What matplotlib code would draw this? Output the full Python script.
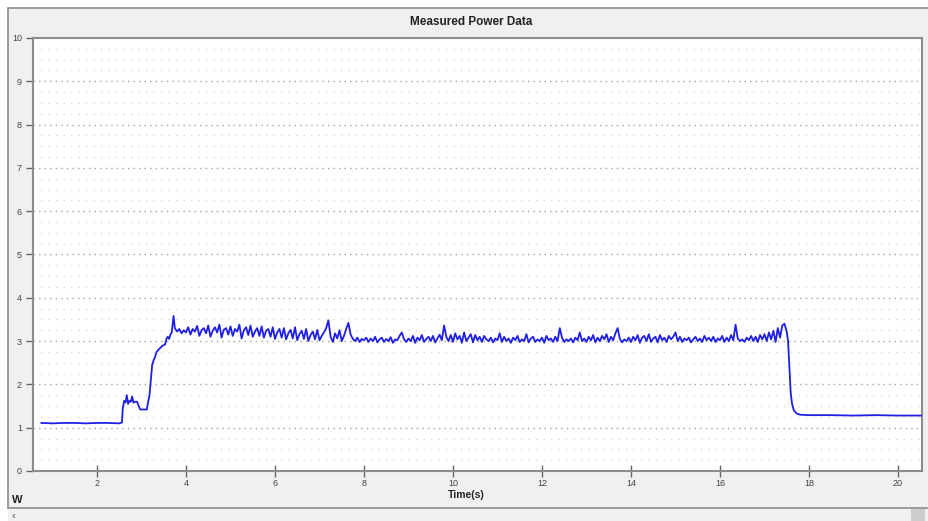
import numpy as np
import matplotlib
matplotlib.use("Agg")
import matplotlib.pyplot as plt
from matplotlib.patches import Rectangle

plt.rcParams['font.family'] = ['Liberation Sans', 'DejaVu Sans']

# ---------------- data ----------------
t_idle_start = [0.75, 1.0, 1.25, 1.5, 1.75, 2.0, 2.25, 2.5, 2.56]
p_idle_start = [1.11, 1.10, 1.11, 1.11, 1.10, 1.11, 1.11, 1.10, 1.12]

t_ramp = [2.58, 2.61, 2.64, 2.67, 2.70, 2.73, 2.76, 2.79, 2.82, 2.85, 2.90, 2.94,
          2.97, 3.05, 3.12, 3.15, 3.18, 3.21, 3.24, 3.27, 3.30, 3.34, 3.38, 3.43,
          3.48, 3.53, 3.56, 3.59, 3.62, 3.65, 3.68, 3.72]
p_ramp = [1.45, 1.62, 1.58, 1.75, 1.55, 1.62, 1.60, 1.72, 1.58, 1.60, 1.60, 1.50,
          1.42, 1.42, 1.42, 1.60, 1.75, 2.10, 2.45, 2.55, 2.62, 2.75, 2.80, 2.85,
          2.90, 2.92, 3.05, 3.10, 3.05, 3.15, 3.20, 3.58]

load_start = 3.75
load_step = 0.05
p_load = [
    3.30, 3.22, 3.28, 3.18, 3.25,
    3.20, 3.32, 3.15, 3.28, 3.22, 3.35, 3.12, 3.25, 3.30, 3.18, 3.36, 3.10, 3.24, 3.32, 3.20, 3.38, 3.08, 3.26, 3.30, 3.15,
    3.34, 3.12, 3.28, 3.22, 3.38, 3.06, 3.25, 3.32, 3.14, 3.36, 3.10, 3.22, 3.30, 3.12, 3.34, 3.08, 3.24, 3.28, 3.10, 3.32,
    3.05, 3.20, 3.28, 3.08, 3.30, 3.04, 3.18, 3.26, 3.06, 3.32, 3.02, 3.16, 3.24, 3.05, 3.28, 3.00, 3.14, 3.22, 3.04, 3.26,
    3.02, 3.12, 3.20, 3.30, 3.48, 3.10, 2.98, 3.18, 3.06, 3.25, 3.00, 3.12, 3.28, 3.42, 3.15, 3.05, 3.00, 3.08, 2.98, 3.05,
    3.02, 3.08, 2.98, 3.06, 3.00, 3.10, 2.97, 3.04, 3.08, 2.98, 3.05, 3.00, 3.09, 2.96, 3.04, 3.02, 3.12, 3.20, 3.04, 2.98,
    3.06, 3.00, 3.12, 2.96, 3.08, 3.02, 3.14, 2.98, 3.05, 3.10, 3.00, 3.12, 2.97, 3.06, 3.15, 3.02, 3.36, 3.10, 3.00, 3.14,
    2.98, 3.18, 3.04, 3.12, 2.96, 3.20, 3.00, 3.08, 3.16, 2.97, 3.14, 3.02, 3.10, 2.98, 3.12, 3.04, 3.00, 3.08, 2.97, 3.06,
    3.02, 3.18, 2.98, 3.10, 3.00, 3.06, 2.96, 3.08, 3.02, 3.12, 2.98, 3.04, 3.00, 3.16, 2.97, 3.06, 3.10, 2.98, 3.04, 3.00,
    3.08, 2.96, 3.12, 3.02, 3.06, 2.98, 3.10, 3.00, 3.30, 3.08, 2.98, 3.04, 3.00, 3.06, 2.97, 3.08, 3.02, 3.20, 3.00, 3.06,
    2.98, 3.10, 3.02, 3.14, 2.97, 3.08, 3.00, 3.12, 3.04, 3.16, 2.98, 3.10, 3.02, 3.18, 3.30, 3.05, 2.97, 3.04, 3.00, 3.08,
    2.98, 3.10, 3.02, 3.14, 2.96, 3.08, 3.12, 3.00, 3.16, 2.98, 3.06, 3.10, 2.97, 3.14, 3.02, 3.08, 2.98, 3.12, 3.04, 3.10,
    3.20, 3.00, 3.10, 2.98, 3.06, 3.02, 3.08, 2.97, 3.04, 3.10, 3.00, 3.06, 2.98, 3.12, 3.02, 3.08, 3.00, 3.10, 2.98, 3.06,
    3.02, 3.12, 2.98, 3.08, 3.00, 3.14, 3.02, 3.38, 3.06, 3.00, 3.04, 2.98, 3.08, 3.02, 3.12, 3.00, 3.10, 2.98, 3.14, 3.04,
    3.16, 3.00, 3.20, 3.04, 3.24, 2.98, 3.30, 3.08, 3.36, 3.40, 3.22,
]
t_load = [round(load_start + i * load_step, 3) for i in range(len(p_load))]

t_fall = [17.53, 17.56, 17.59, 17.62, 17.66, 17.72, 17.80]
p_fall = [3.00, 2.40, 1.80, 1.55, 1.40, 1.33, 1.30]

t_idle_end = [18.0, 18.5, 19.0, 19.5, 20.0, 20.54]
p_idle_end = [1.29, 1.29, 1.28, 1.29, 1.28, 1.28]

time = np.concatenate([t_idle_start, t_ramp, t_load, t_fall, t_idle_end])
power = np.concatenate([p_idle_start, p_ramp, p_load, p_fall, p_idle_end])

x_ticks = [2, 4, 6, 8, 10, 12, 14, 16, 18, 20]
y_ticks = [0, 1, 2, 3, 4, 5, 6, 7, 8, 9, 10]

# ---------------- figure ----------------
W, H = 929, 521
fig = plt.figure(figsize=(W / 100, H / 100), dpi=100)
fig.patch.set_facecolor("white")

# outer panel
panel = Rectangle((8 / W, 1 - 508 / H), 1 - 8 / W, 500 / H, transform=fig.transFigure,
                  facecolor="#f0f0f0", edgecolor="#8a8a8a", linewidth=1.2, zorder=-10)
fig.patches.append(panel)
# scrollbar strip
strip = Rectangle((8 / W, 0), 1 - 8 / W, 1 - 508 / H - 0.002, transform=fig.transFigure,
                  facecolor="#f0f0f0", edgecolor="none", zorder=-10)
fig.patches.append(strip)
thumb = Rectangle((911 / W, 0), 14 / W, 12 / H, transform=fig.transFigure,
                  facecolor="#cdcdcd", edgecolor="none", zorder=-9)
fig.patches.append(thumb)
fig.text(12 / W, 1 - 516 / H, "‹", fontsize=8, color="#555555", va="center", ha="left")

ax = fig.add_axes([33 / W, 1 - 471 / H, (922 - 33) / W, (471 - 38) / H])
ax.set_zorder(5)
ax.set_facecolor("white")

# grid
for yv in np.arange(0.25, 10, 0.25):
    if abs(yv - round(yv)) < 1e-6:
        ax.axhline(yv, color="#a0a0a0", linewidth=1.0, linestyle=(0, (1, 3)), zorder=1)
    else:
        ax.axhline(yv, color="#d4d4d4", linewidth=0.9, linestyle=(0, (1, 5)), zorder=1)

ax.plot(time, power, color="#1f1fe6", linewidth=1.3, zorder=3)

ax.set_xlim(0.562, 20.54)
ax.set_ylim(0, 10)
ax.set_xticks(x_ticks)
ax.set_yticks(y_ticks)
ax.set_xticklabels([str(v) for v in x_ticks])
ax.set_yticklabels([str(v) for v in y_ticks])
ax.tick_params(axis="x", direction="inout", length=8, width=1.0, color="#666666",
               labelsize=6.5, labelcolor="#444444", pad=2)
ax.tick_params(axis="y", direction="out", length=5, width=1.0, color="#666666",
               labelsize=6.5, labelcolor="#444444", pad=3)
for s in ax.spines.values():
    s.set_color("#8c8c8c")
    s.set_linewidth(1.5)

fig.text(471 / W, 1 - 22 / H, "Measured Power Data", fontsize=8.5,
         fontweight="bold", color="#222222", ha="center", va="center", zorder=6)
fig.text(466 / W, 1 - 495 / H, "Time(s)", fontsize=7.5, fontweight="bold",
         color="#222222", ha="center", va="center", zorder=6)
fig.text(12 / W, 1 - 500 / H, "W", fontsize=8, fontweight="bold",
         color="#222222", ha="left", va="center", zorder=6)

fig.savefig("out.png", dpi=100)
